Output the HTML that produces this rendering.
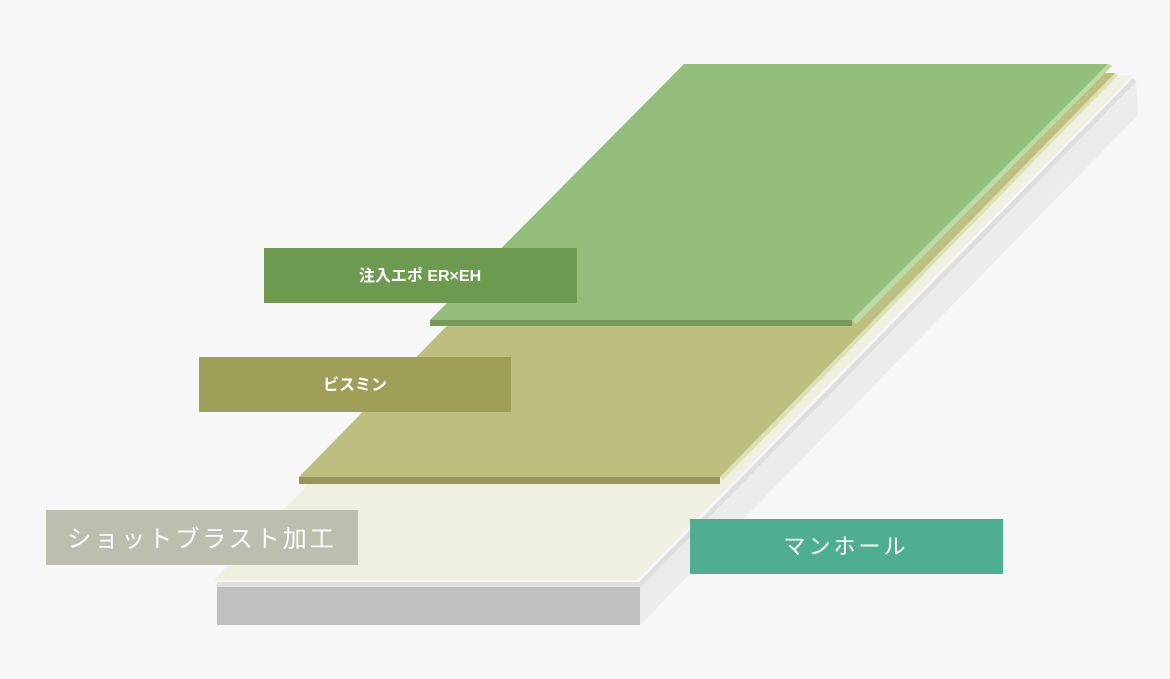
<!DOCTYPE html>
<html><head><meta charset="utf-8"><style>
html,body{margin:0;padding:0;background:#f7f7f7;}
svg{display:block}
text{font-family:"Liberation Sans","Noto Sans CJK JP",sans-serif;fill:#fff;font-weight:bold}
</style></head><body>
<svg width="1170" height="679" viewBox="0 0 1170 679" xmlns="http://www.w3.org/2000/svg">
<rect width="1170" height="679" fill="#f7f7f7"/>
<!-- base slab -->
<polygon points="640,586 1136,80 1138,115 640,625" fill="#ececec"/>
<polygon points="637,584 1133,78 1136,82 640,588" fill="#dedede"/>
<rect x="217" y="586" width="423" height="39" fill="#c0c0c0"/>
<rect x="217" y="582" width="423" height="5" fill="#e0e0e0"/>
<polygon points="214,580 637,580 1133,75 710,75" fill="#efefe2"/>
<!-- bismin layer -->
<polygon points="720,477 1115,73 1118,75 723,480" fill="#dde0b0"/>
<polygon points="299,477 720,477 1115,73 694,73" fill="#bcbf80"/>
<rect x="299" y="477" width="421" height="7" fill="#96955c"/>
<!-- green layer -->
<polygon points="852,320 1108,64 1112,66 856,324" fill="#b8dca4"/>
<polygon points="430,320 852,320 1108,64 684,64" fill="#94bc7b"/>
<rect x="430" y="320" width="422" height="6" fill="#76995a"/>
<!-- labels -->
<rect x="264" y="248" width="313" height="55" fill="#6d9a50"/>
<text x="420" y="281" font-size="16" text-anchor="middle">注入エポ ER×EH</text>
<rect x="199" y="357" width="312" height="55" fill="#9d9f58"/>
<text x="355" y="390" font-size="16" text-anchor="middle">ビスミン</text>
<rect x="46" y="510" width="312" height="55" fill="#bdbdb0"/>
<text x="202" y="547" font-size="24" text-anchor="middle" letter-spacing="3" style="font-weight:normal">ショットブラスト加工</text>
<rect x="690" y="519" width="313" height="55" fill="#4fae92"/>
<text x="846" y="554" font-size="22" text-anchor="middle" letter-spacing="3" style="font-weight:normal">マンホール</text>
</svg>
</body></html>
